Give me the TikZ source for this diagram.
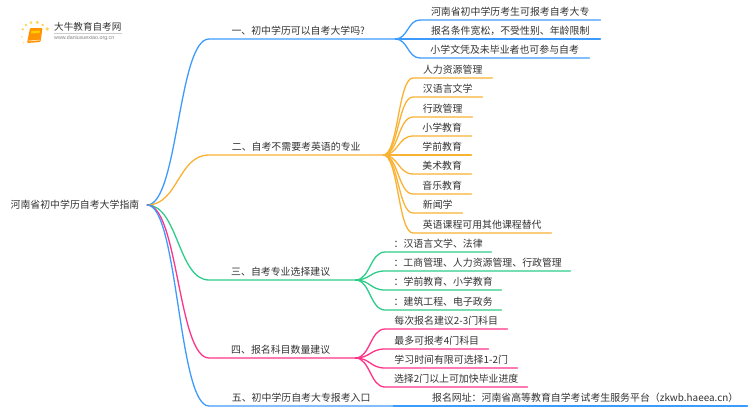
\documentclass[tikz,border=0pt]{standalone}
\usepackage{fontspec}
\setmainfont{Noto Sans CJK SC}
\newfontfamily\urlfont{Liberation Sans}
\usetikzlibrary{calc}
\definecolor{cblue}{HTML}{3D9BFF}
\definecolor{corange}{HTML}{F9B233}
\definecolor{cgreen}{HTML}{2ECC8A}
\definecolor{cpink}{HTML}{FF3388}
\definecolor{ctext}{HTML}{333333}
\tikzset{
  mapnode/.style={font=\fontsize{9.9}{12}\selectfont,text=ctext,inner sep=0pt,anchor=south west,minimum height=15.5pt},
  rootnode/.style={font=\fontsize{9.9}{12}\selectfont,text=ctext,inner sep=0pt,minimum width=144pt,minimum height=16pt},
  edge/.style={line width=1.3pt,line cap=round}
}
\newcommand\linkto[3]{\draw[edge,#1] (#2) .. controls ($(#2)!.5!(#3.south west|-#2)$) and ($(#3.south west)!.5!(#2|-#3.south west)$) .. (#3.south west) -- (#3.south east);}
\begin{document}
\begin{tikzpicture}[x=1pt,y=-1pt]
\useasboundingbox (0,0) rectangle (750,410);
% logo
\fill[corange!70!yellow,opacity=.75] (22.7,29.3) circle (1.3) (26,25) circle (1.4) (31,22.7) circle (1.5) (37.3,22.3) circle (1.7) (42.7,25) circle (1.5) (47.3,29) circle (1.9);
\fill[corange!60!yellow,opacity=.45] (21.7,36.7) circle (1.1) (23.3,42.7) circle (1);
\fill[orange!85!yellow,rounded corners=1pt] (30,28) -- (42.5,28) -- (40.5,42) -- (27,43) -- cycle;
\fill[orange!40!yellow] (31.5,31) -- (40,30.5) -- (39.5,33) -- (31,33.5) -- cycle;
\draw[white,line width=.5pt] (28.5,41) -- (39.8,40);
\node[inner sep=0pt,anchor=west,font=\fontsize{9.6}{11}\selectfont,text=ctext] (logotitle) at (54,27) {大牛教育自考网};
\node[inner sep=0pt,anchor=west,font=\urlfont\fontsize{5.3}{6}\selectfont,text=gray] (logourl) at (54,38.5) {www.daniuxuexiao.org.cn};
\draw[black!20,line width=.5pt] (logotitle.west|-0,33.2) -- (122,33.2);
% nodes
\node[rootnode] (r) at (75,205) {河南省初中学历自考大学指南};
\node[mapnode,minimum width=186pt] (b1) at (209,39) {一、初中学历可以自考大学吗?\kern8pt};
\node[mapnode,minimum width=174pt] (b2) at (209,155) {二、自考不需要考英语的专业};
\node[mapnode,minimum width=146pt] (b3) at (209,280) {三、自考专业选择建议\kern3pt};
\node[mapnode,minimum width=146pt] (b4) at (209,358) {四、报名科目数量建议\kern3pt};
\node[mapnode,minimum width=184pt] (b5) at (209,406) {五、初中学历自考大专报考入口};

\node[mapnode,minimum width=180pt] (l11) at (420,20) {河南省初中学历考生可报考自考大专};
\node[mapnode,minimum width=180pt] (l12) at (420,39) {报名条件宽松，不受性别、年龄限制};
\node[mapnode,minimum width=169pt] (l13) at (420,58) {小学文凭及未毕业者也可参与自考};

\node[mapnode,minimum width=79pt] (l21) at (413,78) {人力资源管理};
\node[mapnode,minimum width=69pt] (l22) at (413,97) {汉语言文学};
\node[mapnode,minimum width=59pt] (l23) at (413,117) {行政管理};
\node[mapnode,minimum width=58pt] (l24) at (413,136) {小学教育};
\node[mapnode,minimum width=58pt] (l25) at (413,155) {学前教育};
\node[mapnode,minimum width=58pt] (l26) at (413,174) {美术教育};
\node[mapnode,minimum width=58pt] (l27) at (413,194) {音乐教育};
\node[mapnode,minimum width=49pt] (l28) at (413,213) {新闻学};
\node[mapnode,minimum width=138pt] (l29) at (413,233) {英语课程可用其他课程替代};

\node[mapnode,minimum width=106pt] (l31) at (385,252) {：汉语言文学、法律};
\node[mapnode,minimum width=185pt] (l32) at (385,271) {：工商管理、人力资源管理、行政管理};
\node[mapnode,minimum width=116pt] (l33) at (385,290) {：学前教育、小学教育};
\node[mapnode,minimum width=116pt] (l34) at (385,310) {：建筑工程、电子政务};

\node[mapnode,minimum width=122pt] (l41) at (385,329) {每次报名建议2-3门科目};
\node[mapnode,minimum width=103pt] (l42) at (385,349) {最多可报考4门科目};
\node[mapnode,minimum width=132pt] (l43) at (385,368) {学习时间有限可选择1-2门};
\node[mapnode,minimum width=142pt] (l44) at (385,387) {选择2门以上可加快毕业进度};

\node[mapnode,minimum width=327pt] (l51) at (420,406) {\kern3pt报名网址：河南省高等教育自学考试考生服务平台（zkwb.haeea.cn）};
% connectors
\linkto{cblue}{r.east}{b1}
\linkto{corange}{r.east}{b2}
\linkto{cgreen}{r.east}{b3}
\linkto{cpink}{r.east}{b4}
\linkto{cblue}{r.east}{b5}
\foreach \n in {l11,l12,l13} {\linkto{cblue}{b1.south east}{\n}}
\foreach \n in {l21,l22,l23,l24,l25,l26,l27,l28,l29} {\linkto{corange}{b2.south east}{\n}}
\foreach \n in {l31,l32,l33,l34} {\linkto{cgreen}{b3.south east}{\n}}
\foreach \n in {l41,l42,l43,l44} {\linkto{cpink}{b4.south east}{\n}}
\linkto{cblue}{b5.south east}{l51}
\end{tikzpicture}
\end{document}
